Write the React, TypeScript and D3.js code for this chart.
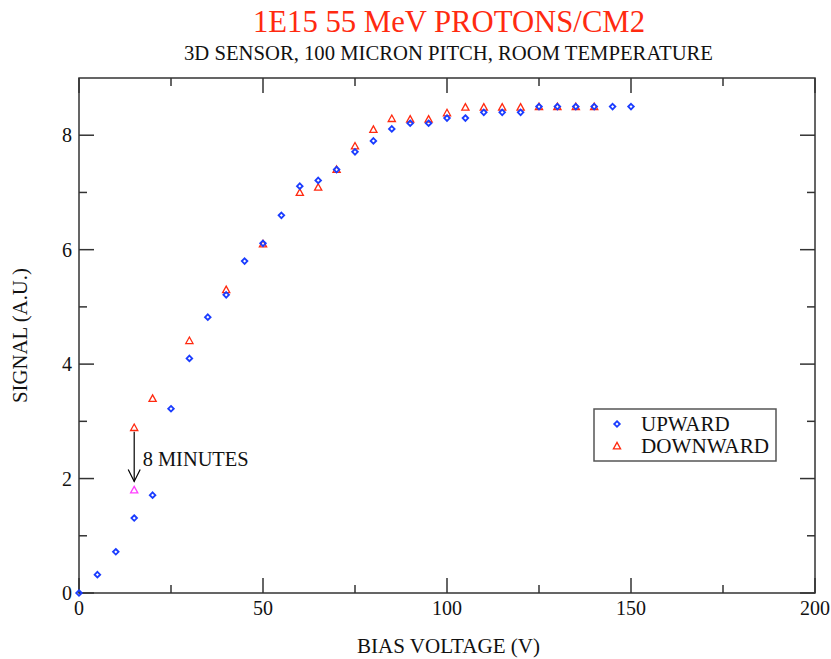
import React from "react";
import * as d3 from "d3";

const upwardV = [0, 5, 10, 15, 20, 25, 30, 35, 40, 45, 50, 55, 60, 65, 70, 75, 80, 85, 90, 95, 100, 105, 110, 115, 120, 125, 130, 135, 140, 145, 150];
const upwardS = [0, 0.32, 0.72, 1.31, 1.71, 3.22, 4.1, 4.82, 5.21, 5.8, 6.11, 6.6, 7.11, 7.21, 7.4, 7.71, 7.9, 8.11, 8.21, 8.21, 8.3, 8.3, 8.4, 8.4, 8.4, 8.5, 8.5, 8.5, 8.5, 8.5, 8.5];

const downwardV = [15, 20, 30, 40, 50, 60, 65, 70, 75, 80, 85, 90, 95, 100, 105, 110, 115, 120, 125, 130, 135, 140];
const downwardS = [2.89, 3.4, 4.41, 5.3, 6.1, 7.0, 7.09, 7.4, 7.81, 8.1, 8.29, 8.28, 8.28, 8.39, 8.49, 8.49, 8.49, 8.49, 8.5, 8.5, 8.5, 8.5];

const afterWaitV = [15];
const afterWaitS = [1.8];

const xTicks = [0, 50, 100, 150, 200];
const xMinor = [25, 75, 125, 175];
const yTicks = [0, 2, 4, 6, 8];
const yMinor = [1, 3, 5, 7];

const titleText = "1E15 55 MeV PROTONS/CM2";
const subtitleText = "3D SENSOR, 100 MICRON PITCH, ROOM TEMPERATURE";
const xLabel = "BIAS VOLTAGE (V)";
const yLabel = "SIGNAL (A.U.)";
const legendLabels = ["UPWARD", "DOWNWARD"];
const annotationText = "8 MINUTES";

const W = 831;
const H = 659;
const L = 79, R = 815, T = 78, B = 593;
const FONT = "Liberation Serif";
const BLUE = "#1a3cff";
const RED = "#ff2a10";
const MAGENTA = "#ff40ff";
const AXIS = "#333";

const x = d3.scaleLinear().domain([0, 200]).range([L, R]);
const y = d3.scaleLinear().domain([0, 9]).range([B, T]);

const diamond = (cx: number, cy: number, r = 2.8) =>
  `M${cx},${cy - r}L${cx + r},${cy}L${cx},${cy + r}L${cx - r},${cy}Z`;
const triangle = (cx: number, cy: number, r = 3.6) =>
  `M${cx},${cy - r}L${cx + r},${cy + r * 0.8}L${cx - r},${cy + r * 0.8}Z`;

const txt = { fontFamily: FONT };

export default function App() {
  const major = 15, minor = 8;
  const arrowX = x(15);
  const arrowTop = y(2.82);
  const arrowTip = y(1.95);
  return (
    <svg width={W} height={H} style={{ position: "absolute", left: 0, top: 0, background: "#fff", fontFamily: FONT }}>
      <rect x={0} y={0} width={W} height={H} fill="#fff" />
      <text style={txt} x={449} y={32} textAnchor="middle" fontSize={31} fill={RED} textLength={392} lengthAdjust="spacingAndGlyphs">{titleText}</text>
      <text style={txt} x={448.5} y={60} textAnchor="middle" fontSize={20} fill="#111" textLength={529} lengthAdjust="spacingAndGlyphs">{subtitleText}</text>

      {/* frame */}
      <rect x={L} y={T} width={R - L} height={B - T} fill="none" stroke={AXIS} strokeWidth={1.5} />

      {/* x ticks */}
      {xTicks.map((t) => (
        <g key={"xt" + t}>
          <line x1={x(t)} x2={x(t)} y1={B} y2={B - major} stroke={AXIS} strokeWidth={1.5} />
          <line x1={x(t)} x2={x(t)} y1={T} y2={T + major} stroke={AXIS} strokeWidth={1.5} />
          <text style={txt} x={x(t)} y={615} textAnchor="middle" fontSize={20} fill="#111">{t}</text>
        </g>
      ))}
      {xMinor.map((t) => (
        <g key={"xm" + t}>
          <line x1={x(t)} x2={x(t)} y1={B} y2={B - minor} stroke={AXIS} strokeWidth={1.5} />
          <line x1={x(t)} x2={x(t)} y1={T} y2={T + minor} stroke={AXIS} strokeWidth={1.5} />
        </g>
      ))}
      {yTicks.map((t) => (
        <g key={"yt" + t}>
          <line x1={L} x2={L + major} y1={y(t)} y2={y(t)} stroke={AXIS} strokeWidth={1.5} />
          <line x1={R} x2={R - major} y1={y(t)} y2={y(t)} stroke={AXIS} strokeWidth={1.5} />
          <text style={txt} x={72} y={y(t) + 7} textAnchor="end" fontSize={20} fill="#111">{t}</text>
        </g>
      ))}
      {yMinor.map((t) => (
        <g key={"ym" + t}>
          <line x1={L} x2={L + minor} y1={y(t)} y2={y(t)} stroke={AXIS} strokeWidth={1.5} />
          <line x1={R} x2={R - minor} y1={y(t)} y2={y(t)} stroke={AXIS} strokeWidth={1.5} />
        </g>
      ))}

      <text style={txt} x={448.5} y={653} textAnchor="middle" fontSize={20} fill="#111" textLength={183} lengthAdjust="spacingAndGlyphs">{xLabel}</text>
      <text style={txt} transform={`translate(27, 335.5) rotate(-90)`} textAnchor="middle" fontSize={20} fill="#111" textLength={135} lengthAdjust="spacingAndGlyphs">{yLabel}</text>

      {/* data */}
      {downwardV.map((v, i) => (
        <path key={"d" + i} d={triangle(x(v), y(downwardS[i]))} fill="none" stroke={RED} strokeWidth={1.3} />
      ))}
      {upwardV.map((v, i) => (
        <path key={"u" + i} d={diamond(x(v), y(upwardS[i]))} fill="none" stroke={BLUE} strokeWidth={1.8} />
      ))}
      {afterWaitV.map((v, i) => (
        <path key={"m" + i} d={triangle(x(v), y(afterWaitS[i]))} fill="none" stroke={MAGENTA} strokeWidth={1.3} />
      ))}

      {/* annotation */}
      <line x1={arrowX} x2={arrowX} y1={arrowTop} y2={arrowTip} stroke="#000" strokeWidth={1.2} />
      <path d={`M${arrowX - 6},${arrowTip - 12}L${arrowX},${arrowTip}L${arrowX + 6},${arrowTip - 12}`} fill="none" stroke="#000" strokeWidth={1.2} />
      <text style={txt} x={x(17.3)} y={466} fontSize={20} fill="#111" textLength={106} lengthAdjust="spacingAndGlyphs">{annotationText}</text>

      {/* legend */}
      <rect x={594} y={409} width={182} height={52} fill="#fff" stroke="#555" strokeWidth={1.5} />
      <path d={diamond(617, 424)} fill="none" stroke={BLUE} strokeWidth={1.8} />
      <path d={triangle(617, 446)} fill="none" stroke={RED} strokeWidth={1.3} />
      <text style={txt} x={641} y={431} fontSize={21} fill="#111">{legendLabels[0]}</text>
      <text style={txt} x={641} y={453} fontSize={21} fill="#111" textLength={128} lengthAdjust="spacingAndGlyphs">{legendLabels[1]}</text>
    </svg>
  );
}
